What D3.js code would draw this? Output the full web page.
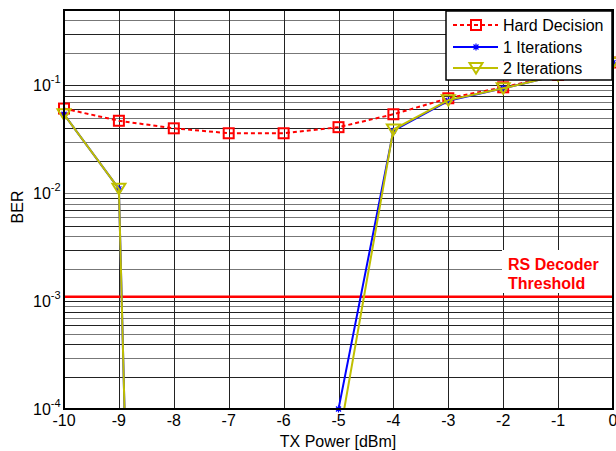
<!DOCTYPE html>
<html>
<head>
<meta charset="utf-8">
<script src="https://cdn.jsdelivr.net/npm/d3@7"></script>
<style>
body { margin: 0; background: #fff; }
text { font-family: Arial, "Liberation Sans", sans-serif; }
</style>
</head>
<body>
<script>
// tx power points (dBm)
var txPower = [-10, -9, -8, -7, -6, -5, -4, -3, -2, -1, 0];
// BER per curve, tiny values fall under the axis and get clipped
var hardDecision = [0.061, 0.047, 0.040, 0.036, 0.036, 0.041, 0.054, 0.076, 0.096, 0.125, 0.163];
var iter1 = [0.054, 0.011, 1e-22, 1e-22, 1e-22, 1e-4, 0.038, 0.072, 0.094, 0.124, 0.162];
var iter2 = [0.054, 0.011, 1e-22, 1e-22, 1e-22, 5e-5, 0.039, 0.073, 0.094, 0.124, 0.162];
var seriesNames = ["Hard Decision", "1 Iterations", "2 Iterations"];
var yExponents = [-4, -3, -2, -1];
var threshold = 1.1e-3;

var W = 616, H = 451;
var svg = d3.select('body').append('svg')
            .attr("width", W)
            .attr("height", H);

var x = d3.scaleLinear().domain([-10, 0]).range([64, 613]);
var y = d3.scaleLog().domain([1e-4, 0.5]).range([409, 10]);

svg.append('defs').append('clipPath').attr('id', 'plotclip')
   .append('rect')
   .attr('x', x(-10)).attr('y', y(0.5))
   .attr('width', x(0) - x(-10)).attr('height', y(1e-4) - y(0.5));

// grid
var grid = svg.append('g');
grid.selectAll('line.h')
    .data(y.ticks().filter(function (d) { return d > 1e-4 && d < 0.5; }))
    .enter().append('line')
    .attr('x1', x(-10)).attr('x2', x(0))
    .attr('y1', function (d) { return Math.round(y(d)) + 0.5; })
    .attr('y2', function (d) { return Math.round(y(d)) + 0.5; })
    .attr('stroke', function (d, i) { return i % 2 ? '#777' : '#222'; })
    .attr('stroke-width', 1);
grid.selectAll('line.v')
    .data(txPower.slice(1, -1))
    .enter().append('line')
    .attr('y1', y(0.5)).attr('y2', y(1e-4))
    .attr('x1', function (d) { return Math.round(x(d)) + 0.5; })
    .attr('x2', function (d) { return Math.round(x(d)) + 0.5; })
    .attr('stroke', '#222')
    .attr('stroke-width', 1);

// threshold line + label
svg.append('line')
   .attr('x1', x(-10)).attr('x2', x(0))
   .attr('y1', y(threshold)).attr('y2', y(threshold))
   .attr('stroke', '#ff0000').attr('stroke-width', 2.5);
svg.append('rect')
   .attr('x', 502).attr('y', 250).attr('width', 110).attr('height', 43)
   .attr('fill', '#fff');
svg.append('text').attr('x', 508).attr('y', 270)
   .attr('fill', '#ff0000').style('font-weight', 'bold').style('font-size', '16px')
   .text('RS Decoder');
svg.append('text').attr('x', 508).attr('y', 289)
   .attr('fill', '#ff0000').style('font-weight', 'bold').style('font-size', '16px')
   .text('Threshold');

var series = [
  { name: seriesNames[0], values: hardDecision, color: '#ff0000', dash: '4,3', marker: 'square' },
  { name: seriesNames[1], values: iter1, color: '#0000ff', dash: null, marker: 'star' },
  { name: seriesNames[2], values: iter2, color: '#bfbf00', dash: null, marker: 'tri' }
];

var line = d3.line()
             .x(function (d) { return x(d[0]); })
             .y(function (d) { return y(Math.max(d[1], 1e-40)); });

var drawMarker = function (g, type, color) {
  if (type === 'square') {
    g.append('rect').attr('x', -5).attr('y', -5).attr('width', 10).attr('height', 10)
     .attr('fill', 'none').attr('stroke', color).attr('stroke-width', 2);
  } else if (type === 'tri') {
    g.append('path').attr('d', 'M-6.5,-5L6.5,-5L0,5.5Z')
     .attr('fill', 'none').attr('stroke', color).attr('stroke-width', 2);
  } else {
    g.append('path').attr('d', 'M-3.5,0L3.5,0M0,-3.5L0,3.5M-2.5,-2.5L2.5,2.5M-2.5,2.5L2.5,-2.5')
     .attr('stroke', color).attr('stroke-width', 1.2);
  }
};

series.forEach(function (s) {
  var pts = txPower.map(function (t, i) { return [t, s.values[i]]; });
  svg.append('path')
     .attr('d', line(pts))
     .attr('clip-path', 'url(#plotclip)')
     .attr('fill', 'none')
     .attr('stroke', s.color)
     .attr('stroke-width', 2)
     .attr('stroke-dasharray', s.dash);
  pts.filter(function (p) { return p[1] >= 1e-4; }).forEach(function (p) {
    var g = svg.append('g').attr('transform', 'translate(' + x(p[0]) + ',' + y(p[1]) + ')');
    drawMarker(g, s.marker, s.color);
  });
});

// axes box
svg.append('rect')
   .attr('x', x(-10)).attr('y', y(0.5))
   .attr('width', x(0) - x(-10)).attr('height', y(1e-4) - y(0.5))
   .attr('fill', 'none').attr('stroke', '#000').attr('stroke-width', 2);

// x tick labels
svg.selectAll('text.xt')
   .data(txPower)
   .enter().append('text')
   .attr('x', function (d) { return x(d); })
   .attr('y', 426)
   .attr('text-anchor', 'middle')
   .style('font-size', '16px')
   .text(function (d) { return d; });

// y tick labels
var yl = svg.selectAll('text.yt')
   .data(yExponents)
   .enter().append('text')
   .attr('x', 33)
   .attr('y', function (d) { return y(Math.pow(10, d)) + 6; })
   .style('font-size', '16px');
yl.append('tspan').text('10');
yl.append('tspan').attr('dy', -8).style('font-size', '11px').text(function (d) { return '-' + Math.abs(d); });

svg.append('text')
   .attr('x', 338).attr('y', 447)
   .attr('text-anchor', 'middle')
   .style('font-size', '16px')
   .text('TX Power [dBm]');
svg.append('text')
   .attr('transform', 'translate(23,207) rotate(-90)')
   .attr('text-anchor', 'middle')
   .style('font-size', '16px')
   .text('BER');

// legend
var lg = svg.append('g');
lg.append('rect').attr('x', 446).attr('y', 11).attr('width', 166).attr('height', 69)
  .attr('fill', '#fff').attr('stroke', '#000').attr('stroke-width', 1.5);
var legY = [25, 47, 68];
series.forEach(function (s, i) {
  lg.append('line').attr('x1', 453).attr('x2', 498)
    .attr('y1', legY[i]).attr('y2', legY[i])
    .attr('stroke', s.color).attr('stroke-width', 2)
    .attr('stroke-dasharray', s.dash);
  drawMarker(lg.append('g').attr('transform', 'translate(476,' + legY[i] + ')'), s.marker, s.color);
  lg.append('text').attr('x', 503).attr('y', legY[i] + 6)
    .style('font-size', '16px')
    .text(s.name);
});
</script>
</body>
</html>
